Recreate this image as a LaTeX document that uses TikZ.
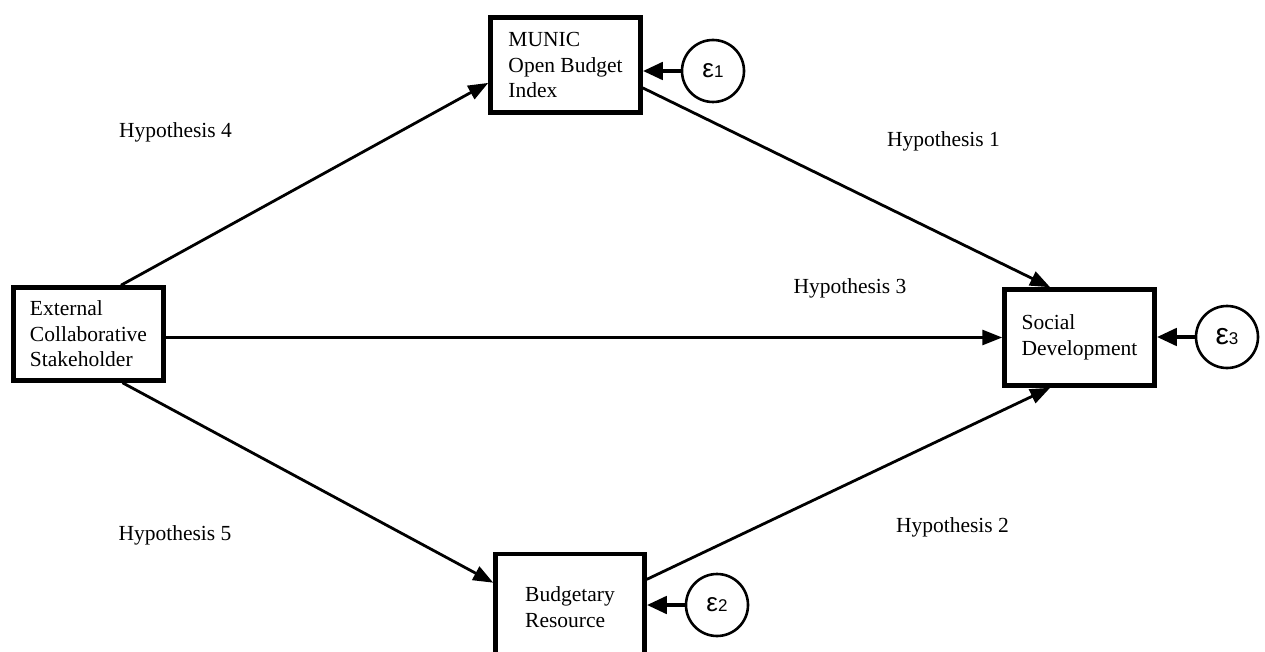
\documentclass[tikz,border=0pt]{standalone}
\usepackage{fontspec}
\setmainfont{Liberation Serif}
\setsansfont{Liberation Sans}
\usetikzlibrary{arrows.meta,calc}

\tikzset{
  varbox/.style={draw, line width=4.5pt, rectangle, align=left,
    font=\fontsize{21.5}{25.5}\selectfont, inner sep=0pt},
  errnode/.style={draw, circle, line width=2.6pt, minimum size=62pt,
    inner sep=0pt, font=\sffamily},
  hyplabel/.style={font=\fontsize{21.5}{25.5}\selectfont, anchor=base, inner sep=0pt},
  pathline/.style={line width=2.8pt, -{Triangle[length=20pt,width=15pt]}},
  errline/.style={line width=4.5pt, -{Triangle[length=20pt,width=17pt]}}
}

\newcommand{\eps}[2]{{\fontsize{#1}{#1}\selectfont ε}{\fontsize{17}{17}\selectfont #2}}

\begin{document}
\begin{tikzpicture}[x=1pt,y=-1pt]
  \clip (0,0) rectangle (1265,652);
  \fill[white] (0,0) rectangle (1265,652);

  % observed variables
  \node[varbox, minimum width=150pt, minimum height=95pt] (munic) at (565.5,65)
    {MUNIC\\Open Budget\\Index};
  \node[varbox, minimum width=150pt, minimum height=93pt] (ext) at (88.5,334)
    {External\\Collaborative\\Stakeholder};
  \node[varbox, minimum width=150pt, minimum height=96pt] (soc) at (1079.5,337.5)
    {Social\\Development\hspace{6pt}};
  \node[varbox, minimum width=149pt, minimum height=106pt] (bud) at (570,607)
    {Budgetary\\Resource};

  % error terms
  \node[errnode] (e1) at (713,71) {\eps{26}{1}};
  \node[errnode] (e2) at (717,605) {\eps{26}{2}};
  \node[errnode] (e3) at (1227,337) {\eps{30}{3}};

  % structural paths
  \draw[pathline] ($(ext.north west)!0.71!(ext.north east)$)
    -- ($(munic.north west)!0.68!(munic.south west)$);
  \draw[pathline] ($(munic.north east)!0.73!(munic.south east)$)
    -- ($(soc.north west)!0.31!(soc.north east)$);
  \draw[pathline] (ext.east |- soc.west) -- (soc.west);
  \draw[pathline] ($(ext.south west)!0.72!(ext.south east)$)
    -- ($(bud.north west)!0.28!(bud.south west)$);
  \draw[pathline] ($(bud.north east)!0.25!(bud.south east)$)
    -- ($(soc.south west)!0.31!(soc.south east)$);

  % error paths
  \draw[errline] (e1.west) -- (e1.west -| munic.east);
  \draw[errline] (e2.west) -- (e2.west -| bud.east);
  \draw[errline] (e3.west) -- (e3.west -| soc.east);

  % hypothesis labels
  \node[hyplabel] (h4) at (175.5,138) {Hypothesis 4};
  \node[hyplabel] (h1) at (943.5,147) {Hypothesis 1};
  \node[hyplabel] (h3) at (850,293) {Hypothesis 3};
  \node[hyplabel] (h5) at (175,540) {Hypothesis 5};
  \node[hyplabel] (h2) at (952.5,532) {Hypothesis 2};
\end{tikzpicture}
\end{document}
